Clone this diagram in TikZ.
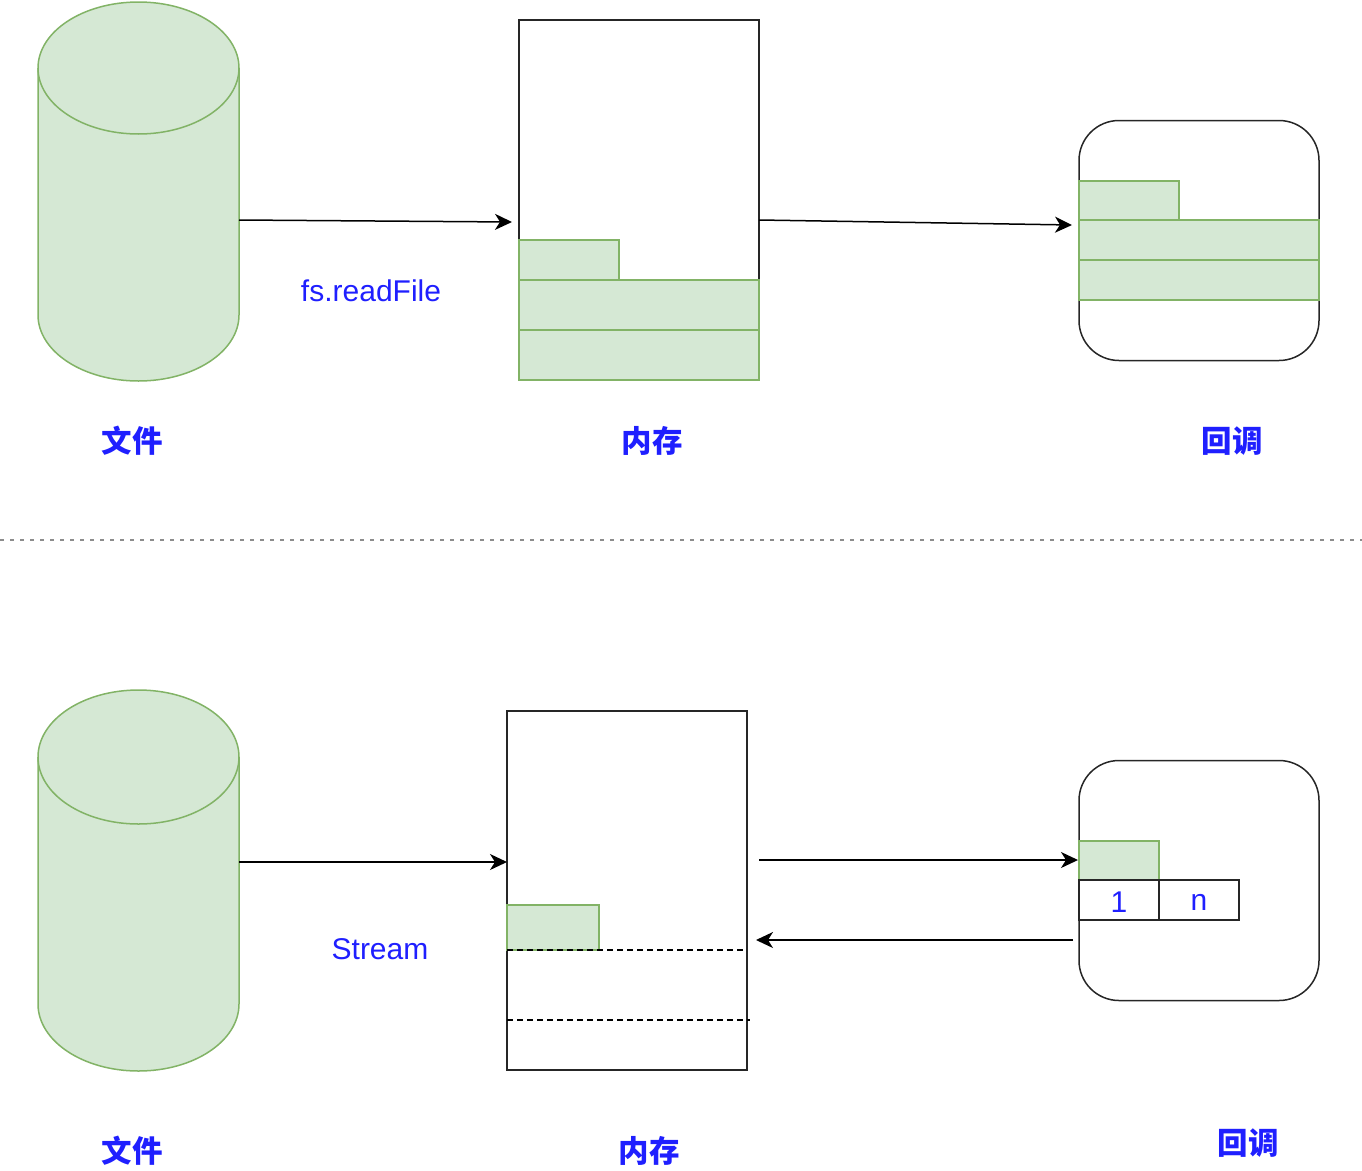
\documentclass[tikz,border=0pt]{standalone}
\usepackage{fontspec}
\setmainfont{Liberation Sans}
\newfontfamily\cjk{Noto Sans CJK SC}
\usetikzlibrary{arrows.meta,calc}
\definecolor{gfill}{HTML}{D5E8D4}
\definecolor{gline}{HTML}{82B366}
\definecolor{tblue}{HTML}{1F1FFF}
\begin{document}
\begin{tikzpicture}[x=1pt,y=-1pt,line width=1.5pt,
  grn/.style={fill=gfill,draw=gline,rectangle,inner sep=0pt,outer sep=0pt,anchor=north west},
  box/.style={draw=black!85,rectangle,inner sep=0pt,outer sep=0pt},
  rbox/.style={draw=black!85,rectangle,rounded corners=40pt,inner sep=0pt,outer sep=0pt,minimum width=240pt,minimum height=240pt},
  hold/.style={rectangle,inner sep=0pt,outer sep=0pt},
  arr/.style={-{Stealth[length=17pt,width=16pt,inset=5pt]},line width=1.5pt},
  lbl/.style={text=tblue,font=\cjk\bfseries\fontsize{30.5}{34}\selectfont},
  txt/.style={text=tblue,font=\fontsize{30}{34}\selectfont},
  sep/.style={draw=black!45,line width=1.5pt,dash pattern=on 4pt off 6pt},
  dsh/.style={draw=black,line width=1.5pt,dash pattern=on 6pt off 4pt}]
\useasboundingbox (0,0) rectangle (1362,1170);

% ---------- top row ----------
\node[hold,minimum width=201pt,minimum height=379pt] (cyl1) at (138.5,191.5) {};
\fill[gfill] (38,68) rectangle (239,315);
\fill[gfill] (138.5,315) ellipse [x radius=100.5,y radius=66];
\fill[gfill] (138.5,68) ellipse [x radius=100.5,y radius=66];
\draw[gline] (138.5,68) ellipse [x radius=100.5,y radius=66];
\draw[gline] (38,68) -- (38,315) arc[start angle=180,end angle=0,x radius=100.5,y radius=66] -- (239,68);

\node[box,minimum width=240pt,minimum height=360pt] (mem1) at (639,200) {};
\node[grn,minimum width=100pt,minimum height=40pt] (m1a) at (519,240) {};
\node[grn,minimum width=240pt,minimum height=50pt] (m1b) at (519,280) {};
\node[grn,minimum width=240pt,minimum height=50pt] (m1c) at (519,330) {};

\node[rbox] (cb1) at (1199,240.5) {};
\node[grn,minimum width=100pt,minimum height=40pt] (c1a) at (1079,181) {};
\node[grn,minimum width=240pt,minimum height=40pt] (c1b) at (1079,220) {};
\node[grn,minimum width=240pt,minimum height=40pt] (c1c) at (1079,260) {};

\draw[arr] ($(cyl1.east)+(0,28.5)$) -- ($(mem1.west)+(-7,22)$);
\draw[arr] ($(mem1.east)+(0,20)$) -- ($(cb1.west)+(-7,-15.5)$);
\node[txt] (t1) at (371,291) {fs.readFile};

\node[lbl] (l1) at (132,441) {文件};
\node[lbl] (l2) at (652,441) {内存};
\node[lbl] (l3) at (1232,441) {回调};

\coordinate (sL) at (0,540);
\coordinate (sR) at (1362,540);
\draw[sep] (sL) -- (sR);

% ---------- bottom row ----------
\node[hold,minimum width=201pt,minimum height=381pt] (cyl2) at (138.5,880.5) {};
\fill[gfill] (38,757) rectangle (239,1004);
\fill[gfill] (138.5,1004) ellipse [x radius=100.5,y radius=67];
\fill[gfill] (138.5,757) ellipse [x radius=100.5,y radius=67];
\draw[gline] (138.5,757) ellipse [x radius=100.5,y radius=67];
\draw[gline] (38,757) -- (38,1004) arc[start angle=180,end angle=0,x radius=100.5,y radius=67] -- (239,757);

\node[box,minimum width=240pt,minimum height=359pt] (mem2) at (627,890.5) {};
\node[grn,minimum width=92pt,minimum height=45pt] (m2a) at (507,905) {};
\coordinate (d1a) at (507,950);
\coordinate (d1b) at (745,950);
\coordinate (d2a) at (507,1020);
\coordinate (d2b) at (750,1020);
\draw[dsh] (d1a) -- (d1b);
\draw[dsh] (d2a) -- (d2b);

\node[rbox] (cb2) at (1199,880.5) {};
\node[grn,minimum width=80pt,minimum height=39pt] (c2a) at (1079,841) {};
\node[box,anchor=north west,minimum width=80pt,minimum height=40pt] (c2one) at (1079,880) {};
\node[box,anchor=north west,minimum width=80pt,minimum height=40pt] (c2n) at (1159,880) {};
\node[txt] at ([yshift=-2pt]c2one.center) {1};
\node[txt] at ([yshift=-2pt]c2n.center) {n};

\draw[arr] ($(cyl2.east)+(0,-18.5)$) -- ($(mem2.west)+(0,-28.5)$);
\draw[arr] ($(mem2.east)+(12,-30.5)$) -- ($(cb2.west)+(-1,-20.5)$);
\draw[arr] ($(cb2.west)+(-6,59.5)$) -- ($(mem2.east)+(9,49.5)$);
\node[txt] (t2) at (380,949) {Stream};

\node[lbl] (l4) at (132,1151) {文件};
\node[lbl] (l5) at (649,1151) {内存};
\node[lbl] (l6) at (1248,1143) {回调};
\end{tikzpicture}
\end{document}
